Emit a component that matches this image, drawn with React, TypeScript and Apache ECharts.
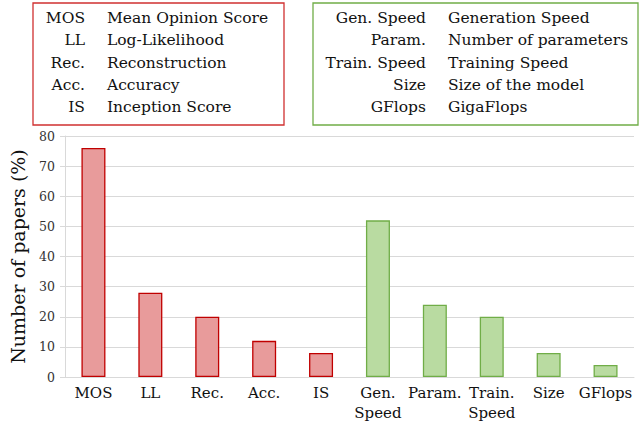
import React, { useEffect, useRef } from "react";
import * as echarts from "echarts";

const categories = ["MOS", "LL", "Rec.", "Acc.", "IS", "Gen.\nSpeed", "Param.", "Train.\nSpeed", "Size", "GFlops"];
const values = [76, 28, 20, 12, 8, 52, 24, 20, 8, 4];
const groups = ["red", "red", "red", "red", "red", "green", "green", "green", "green", "green"];
const yTicks = { min: 0, max: 80, interval: 10 };
const redAbbr = ["MOS", "LL", "Rec.", "Acc.", "IS"];
const redDef = ["Mean Opinion Score", "Log-Likelihood", "Reconstruction", "Accuracy", "Inception Score"];
const greenAbbr = ["Gen. Speed", "Param.", "Train. Speed", "Size", "GFlops"];
const greenDef = ["Generation Speed", "Number of parameters", "Training Speed", "Size of the model", "GigaFlops"];

const FONT = "DejaVu Serif";
const COLORS: Record<string, { fill: string; border: string }> = {
  red: { fill: "#e89b9b", border: "#c00000" },
  green: { fill: "#b9dba1", border: "#70ad47" },
};

function legendBox(x: number, w: number, abbrX: number, defX: number, border: string, abbr: string[], defs: string[]) {
  const children: any[] = [
    { type: "rect", shape: { x, y: 3, width: w, height: 122 }, style: { fill: "#fff", stroke: border, lineWidth: 1.3 } },
  ];
  abbr.forEach((a, i) => {
    const y = 18 + i * 22.3;
    children.push({ type: "text", x: abbrX, y, style: { text: a, fontFamily: FONT, fontSize: 15.5, fill: "#111", align: "right", verticalAlign: "middle" } });
    children.push({ type: "text", x: defX, y, style: { text: defs[i], fontFamily: FONT, fontSize: 15.5, fill: "#111", align: "left", verticalAlign: "middle" } });
  });
  return { type: "group", children };
}

export default function App() {
  const ref = useRef<HTMLDivElement>(null);
  useEffect(() => {
    if (!ref.current) return;
    const chart = echarts.init(ref.current, null, { renderer: "svg" });
    chart.setOption({
      animation: false,
      backgroundColor: "#fff",
      textStyle: { fontFamily: FONT },
      grid: { left: 64, right: 6, top: 136, bottom: 46 },
      xAxis: {
        type: "category",
        data: categories,
        axisLine: { show: true, lineStyle: { color: "#d9d9d9" } },
        axisTick: { show: false },
        axisLabel: { fontFamily: FONT, fontSize: 15, color: "#111", lineHeight: 20, margin: 6, interval: 0 },
      },
      yAxis: {
        type: "value",
        min: yTicks.min,
        max: yTicks.max,
        interval: yTicks.interval,
        name: "Number of papers (%)",
        nameLocation: "middle",
        nameGap: 38,
        nameTextStyle: { fontFamily: FONT, fontSize: 19, color: "#111" },
        axisLine: { show: true, lineStyle: { color: "#d9d9d9" } },
        axisTick: { show: true, length: 5, lineStyle: { color: "#d9d9d9" } },
        axisLabel: { fontFamily: FONT, fontSize: 12.5, color: "#333", margin: 10 },
        splitLine: { show: true, lineStyle: { color: "#d9d9d9" } },
      },
      series: [
        {
          type: "bar",
          barWidth: 24,
          data: values.map((v, i) => ({
            value: v,
            itemStyle: { color: COLORS[groups[i]].fill, borderColor: COLORS[groups[i]].border, borderWidth: 1.3 },
          })),
        },
      ],
      graphic: [
        legendBox(33, 251, 85, 107, "#d03030", redAbbr, redDef),
        legendBox(313, 325, 426, 448, "#70ad47", greenAbbr, greenDef),
      ],
    });
    return () => chart.dispose();
  }, []);
  return <div ref={ref} style={{ width: 640, height: 423, position: "absolute", left: 0, top: 0 }} />;
}
